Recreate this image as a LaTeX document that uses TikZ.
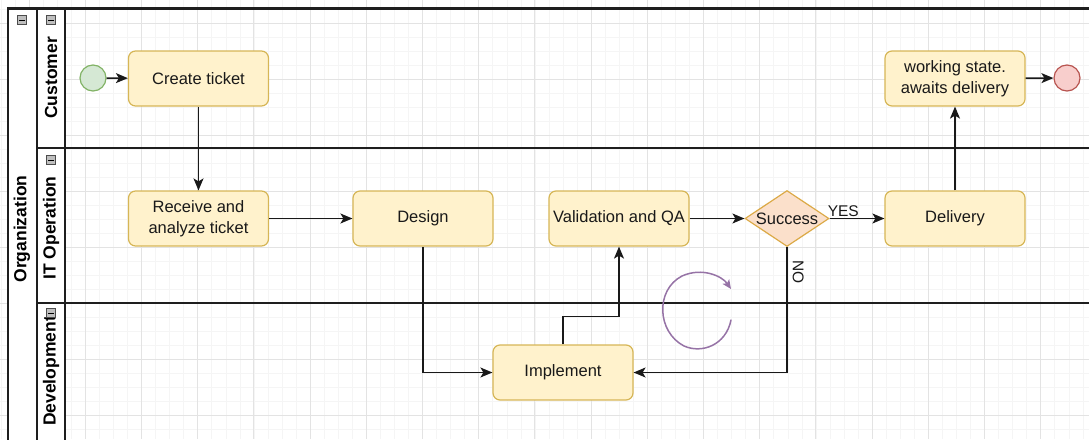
\documentclass[tikz,border=0pt]{standalone}
\usepackage{fontspec}
\setmainfont{Liberation Sans}
\usetikzlibrary{arrows.meta,shapes.geometric,calc}

\definecolor{taskfill}{HTML}{FFF2CC}
\definecolor{taskline}{HTML}{D6B656}
\definecolor{gatefill}{HTML}{FBE0CB}
\definecolor{gateline}{HTML}{DCAA48}
\definecolor{startfill}{HTML}{D5E8D4}
\definecolor{startline}{HTML}{82B366}
\definecolor{endfill}{HTML}{F8CECC}
\definecolor{endline}{HTML}{B85450}
\definecolor{gridmajor}{HTML}{E3E3E3}
\definecolor{gridminor}{HTML}{F5F5F5}
\definecolor{laneline}{HTML}{1E1E1E}
\definecolor{loopcol}{HTML}{9673A6}

\tikzset{
  task/.style={rectangle, rounded corners=7pt, draw=taskline, fill=taskfill,
    line width=1.2pt, minimum width=140pt, minimum height=55pt,
    align=center, font=\fontsize{16.5}{21}\selectfont, text=black!90},
  gate/.style={diamond, draw=gateline, fill=gatefill, line width=1.2pt,
    minimum width=84pt, minimum height=56pt, inner sep=0pt},
  event/.style={circle, line width=1.2pt, minimum size=26pt, inner sep=0pt},
  flow/.style={draw=black!90, line width=1.4pt,
    -{Stealth[length=12pt,width=10pt,inset=3pt]}},
  lanetext/.style={rotate=90, font=\bfseries\fontsize{17.5}{20}\selectfont},
  edgetext/.style={font=\fontsize{15.5}{18}\selectfont, text=black!90},
  frame/.style={draw=laneline, line width=1.5pt},
  foldbox/.style={draw=black!70, fill=black!25, line width=0.6pt,
    minimum size=9pt, inner sep=0pt}
}

\begin{document}
\begin{tikzpicture}[x=1pt, y=-1pt]
\useasboundingbox (0,0) rectangle (1089,439);

% background grid: minor and major lines
\foreach \i in {0,...,78} {
  \draw[gridminor, line width=0.6pt] ({1 + 14.05*\i},0) -- ({1 + 14.05*\i},439);
}
\foreach \i in {0,...,32} {
  \draw[gridminor, line width=0.6pt] (0,{-5 + 14*\i}) -- (1089,{-5 + 14*\i});
}
\foreach \i in {0,...,19} {
  \draw[gridmajor, line width=0.9pt] ({29 + 56.2*\i},0) -- ({29 + 56.2*\i},439);
}
\foreach \i in {0,...,7} {
  \draw[gridmajor, line width=0.9pt] (0,{23 + 56*\i}) -- (1089,{23 + 56*\i});
}

% swimlane headers
\fill[white] (8,8) rectangle (65,440);
\draw[frame] (8,441) -- (8,8) -- (1090,8);
\draw[draw=laneline, line width=2pt] (8,8.5) -- (1090,8.5);
\draw[frame] (37,8) -- (37,441);
\draw[frame] (65,8) -- (65,441);
\draw[frame] (37,148) -- (1090,148);
\draw[frame] (37,303) -- (1090,303);

\node[lanetext] (org) at (22,229) {Organization};
\node[lanetext] (cust) at (51,78) {Customer};
\node[lanetext] (itop) at (51,228) {IT Operation};
\node[lanetext] (dev) at (51,371) {Development};

% collapse markers
\foreach \nm/\px/\py in {fa/22/20, fb/51/20, fc/51/160, fd/51/313} {
  \node[foldbox] (\nm) at (\px,\py) {};
  \draw[black, line width=0.9pt] ($(\nm.center)+(-2.8,0)$) -- ($(\nm.center)+(2.8,0)$);
}

% events
\node[event, draw=startline, fill=startfill] (start) at (93,78) {};
\node[event, draw=endline, fill=endfill] (end) at (1067,78) {};

% tasks
\node[task] (create) at (198.5,78.5) {Create ticket};
\node[task] (receive) at (198.5,218.5) {Receive and\\analyze ticket};
\node[task] (design) at (423,218.5) {Design};
\node[task] (valid) at (619,218.5) {Validation and QA};
\node[task] (deliv) at (955,218.5) {Delivery};
\node[task] (wait) at (955,78.5) {working state.\\awaits delivery};
\node[task] (impl) at (563,372.5) {Implement};

% gateway
\node[gate, label={[font=\fontsize{16.5}{20}\selectfont, text=black!90]center:Success}] (succ) at (787,218.5) {};

% sequence flows
\draw[flow] (start) -- (create);
\draw[flow] (create) -- (receive);
\draw[flow] (receive) -- (design);
\draw[flow] (design.south) |- (impl.west);
\draw[flow] (impl.north) -- ++(0,-28) -| (valid.south);
\draw[flow] (valid) -- (succ);
\draw[flow] (succ) -- node[edgetext, pos=0.25, anchor=south, inner sep=1pt] {YES} (deliv);
\draw[flow] (succ.south) |- node[edgetext, pos=0.1, anchor=south, rotate=-90, inner sep=5pt] {NO} (impl.east);
\draw[flow] (deliv) -- (wait);
\draw[flow] (wait) -- (end);

% hand-drawn loop mark
\draw[loopcol, line width=1.5pt, line cap=round, -{Stealth[length=9pt,width=8pt,inset=2pt]}]
  (731,320) .. controls (726,345) and (702,354) .. (684,346)
  .. controls (657,332) and (655,290) .. (682,276)
  .. controls (702,267) and (722,276) .. (731,289);
\end{tikzpicture}
\end{document}
